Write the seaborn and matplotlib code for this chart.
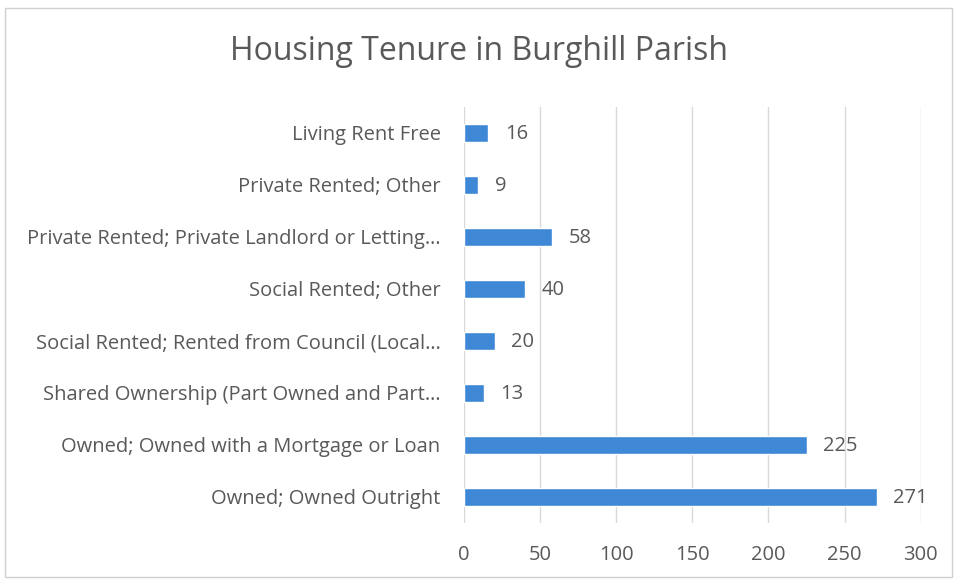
import matplotlib
matplotlib.use("Agg")
import matplotlib.pyplot as plt
import seaborn as sns
import pandas as pd
from matplotlib.patches import Rectangle

categories = [
    "Living Rent Free",
    "Private Rented; Other",
    "Private Rented; Private Landlord or Letting…",
    "Social Rented; Other",
    "Social Rented; Rented from Council (Local…",
    "Shared Ownership (Part Owned and Part…",
    "Owned; Owned with a Mortgage or Loan",
    "Owned; Owned Outright",
]
values = [16, 9, 58, 40, 20, 13, 225, 271]
x_ticks = [0, 50, 100, 150, 200, 250, 300]

df = pd.DataFrame({"tenure": categories, "households": values})

sns.set_theme(style="white")
plt.rcParams["font.family"] = ["Open Sans", "DejaVu Sans"]

text_col = "#595959"
bar_col = "#3f88d6"

fig = plt.figure(figsize=(9.57, 5.84), dpi=100)
ax = fig.add_axes([0.485, 0.105, 0.477, 0.712])

sns.barplot(data=df, x="households", y="tenure", color=bar_col, width=0.34,
            saturation=1, ax=ax, zorder=3)

ax.set_xlim(0, 300)
ax.set_xticks(x_ticks)
ax.grid(axis="x", color="#d9d9d9", linewidth=1, zorder=0)
for s in ax.spines.values():
    s.set_visible(False)
ax.set_xlabel("")
ax.set_ylabel("")
ax.tick_params(axis="both", length=0, labelsize=14.5, colors=text_col)
ax.tick_params(axis="y", pad=17)
ax.tick_params(axis="x", pad=16)

for i, v in enumerate(values):
    ax.annotate(str(v), (v, i), xytext=(12, -1), textcoords="offset points",
                va="center", ha="left", fontsize=14.5, color=text_col)

fig.text(0.5, 0.912, "Housing Tenure in Burghill Parish", ha="center",
         va="center", fontsize=23, color=text_col)

fig.patches.append(Rectangle((0.005, 0.012), 0.99, 0.975, transform=fig.transFigure,
                             fill=False, edgecolor="#d0d0d0", linewidth=1))

fig.savefig("out.png", dpi=100, facecolor="white")
